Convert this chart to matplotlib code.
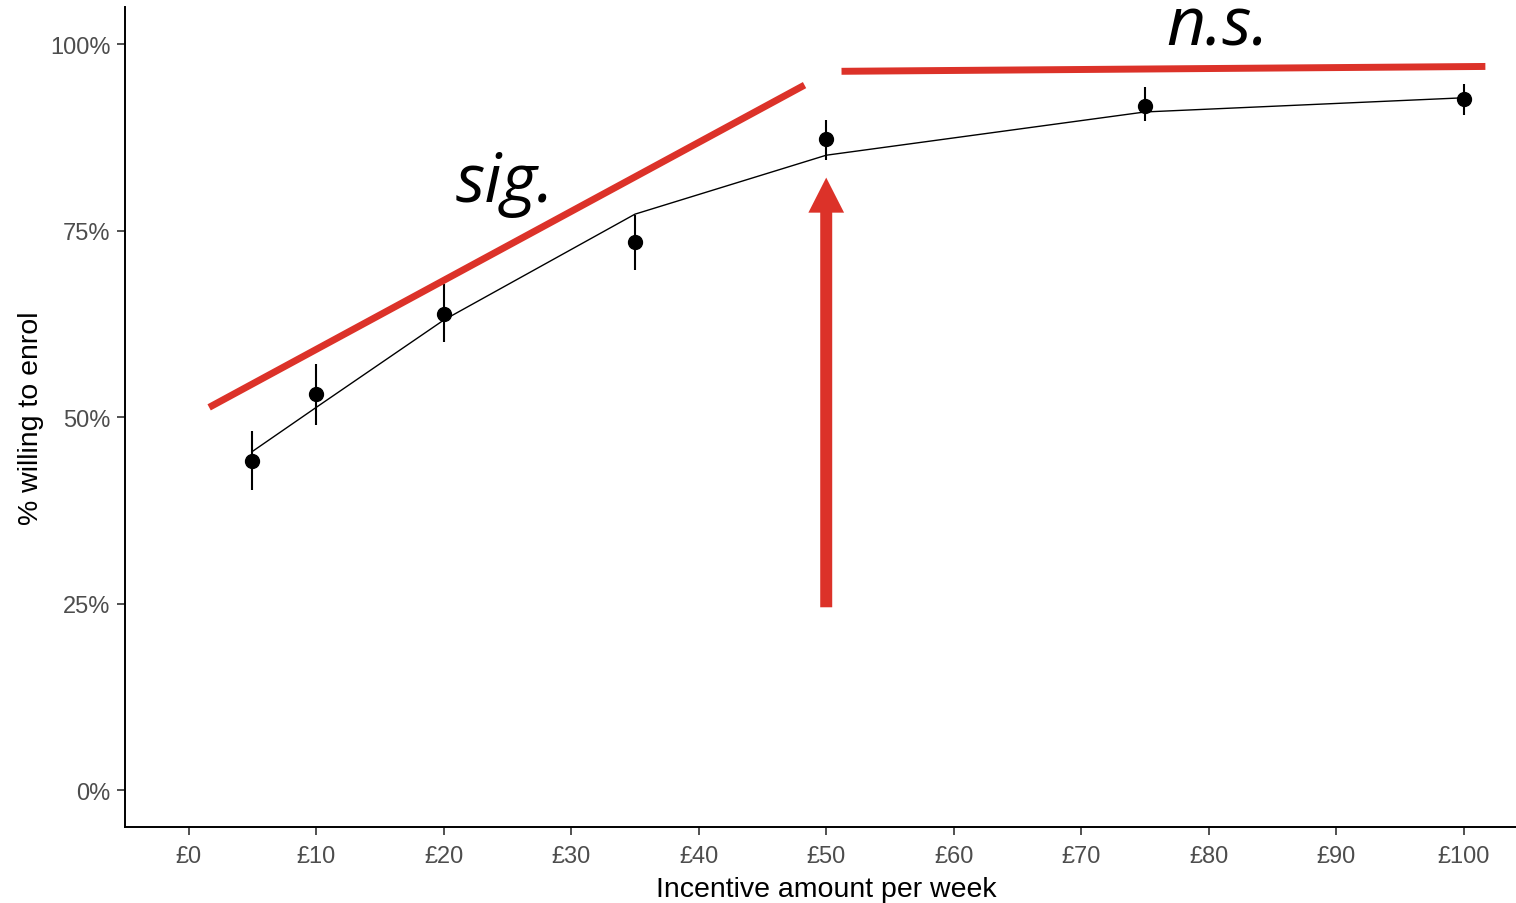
import matplotlib
matplotlib.use("Agg")
import matplotlib.pyplot as plt
from matplotlib.patches import FancyArrow
from matplotlib.ticker import FuncFormatter

# ---- data ----
incentive = [5, 10, 20, 35, 50, 75, 100]                 # £ per week
willing = [44.1, 53.1, 63.8, 73.4, 87.3, 91.7, 92.6]     # % willing to enrol
ci_low = [40.2, 49.0, 60.1, 69.7, 84.4, 89.7, 90.5]
ci_high = [48.1, 57.1, 67.8, 77.1, 89.8, 94.2, 94.7]
fitted = [45.4, 51.3, 63.0, 77.2, 85.1, 90.9, 92.8]

x_ticks = [0, 10, 20, 30, 40, 50, 60, 70, 80, 90, 100]
y_ticks = [0, 25, 50, 75, 100]

# annotation overlay (data coordinates)
sig_line_x = [1.6, 48.3]
sig_line_y = [51.3, 94.5]
ns_line_x = [51.2, 101.7]
ns_line_y = [96.35, 97.0]
arrow_x = 50
arrow_y_from = 24.5
arrow_y_to = 82.1
sig_label = "sig."
ns_label = "n.s."
sig_pos = (20.9, 79.0)
ns_pos = (76.7, 100.0)

RED = "#DC3229"

fig = plt.figure(figsize=(15.16, 9.04), dpi=100)
ax = fig.add_axes([0.08245, 0.0837, 0.9251, 0.9077])

# error bars
err_lo = [w - l for w, l in zip(willing, ci_low)]
err_hi = [h - w for w, h in zip(willing, ci_high)]
ax.errorbar(incentive, willing, yerr=[err_lo, err_hi], fmt="none",
            ecolor="black", elinewidth=1.5, capsize=0, zorder=3)
# fitted line
ax.plot(incentive, fitted, color="black", lw=1.0, zorder=2)
# points
ax.plot(incentive, willing, "o", color="black", markersize=10, zorder=4)

# red annotation overlay
ax.plot(sig_line_x, sig_line_y, color=RED, lw=5, solid_capstyle="butt",
        zorder=5, clip_on=False)
ax.plot(ns_line_x, ns_line_y, color=RED, lw=5, solid_capstyle="butt",
        zorder=5, clip_on=False)
ax.add_patch(FancyArrow(arrow_x, arrow_y_from, 0, arrow_y_to - arrow_y_from,
                        width=0.94, head_width=2.8, head_length=4.7,
                        length_includes_head=True, color=RED, lw=0,
                        zorder=5))
ax.text(sig_pos[0], sig_pos[1], sig_label, fontsize=49, style="italic",
        family="Open Sans", ha="left", va="baseline", color="black")
ax.text(ns_pos[0], ns_pos[1], ns_label, fontsize=49, style="italic",
        family="Open Sans", ha="left", va="baseline", color="black",
        clip_on=False)

# axes styling (ggplot classic-like)
ax.set_xlim(-5, 105)
ax.set_ylim(-5, 105)
ax.set_xticks(x_ticks)
ax.set_yticks(y_ticks)
ax.xaxis.set_major_formatter(FuncFormatter(lambda v, p: f"£{int(v)}"))
ax.yaxis.set_major_formatter(FuncFormatter(lambda v, p: f"{int(v)}%"))
for s in ["top", "right"]:
    ax.spines[s].set_visible(False)
for s in ["left", "bottom"]:
    ax.spines[s].set_linewidth(1.4)
    ax.spines[s].set_color("black")
ax.tick_params(axis="both", length=5.5, width=1.2, color="#333333",
               labelsize=17, labelcolor="#4D4D4D")
ax.tick_params(axis="x", pad=7.5)
ax.tick_params(axis="y", pad=5)
for lab in ax.get_xticklabels() + ax.get_yticklabels():
    lab.set_family("Liberation Sans")

ax.set_xlabel("Incentive amount per week", fontsize=20.5,
              family="Liberation Sans", color="black", labelpad=6.5)
ax.set_ylabel("% willing to enrol", fontsize=20.5,
              family="Liberation Sans", color="black", labelpad=4)

fig.savefig("out.png", dpi=100, facecolor="white")
